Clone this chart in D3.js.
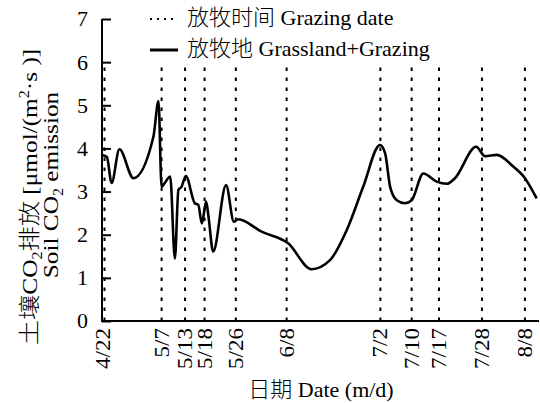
<!DOCTYPE html>
<html>
<head>
<meta charset="utf-8">
<script src="https://cdn.jsdelivr.net/npm/d3@7"></script>
<style>
  html, body { margin: 0; padding: 0; background: #fff; }
  svg { display: block; }
  text { font-family: "Liberation Serif", "Noto Sans CJK SC", serif; font-weight: 300; fill: #000; }
</style>
</head>
<body>
<svg id="chart" width="540" height="403"></svg>
<script>
// Grazing dates (month/day) marked with dotted vertical lines
const grazingDates = ["4/22", "5/7", "5/13", "5/18", "5/26", "6/8", "7/2", "7/10", "7/17", "7/28", "8/8"];

// Soil CO2 emission curve: sample day of year and flux (μmol m-2 s-1)
const sampleDay = [111.8, 113.0, 114.2, 116.2, 119.8, 124.9, 126.2, 127.0, 127.8, 129.2,
                   130.4, 131.3, 132.1, 133.2, 135.5, 136.4, 137.3, 138.4, 139.0, 140.2,
                   143.5, 145.5, 146.6, 152.6, 159.4, 165.4, 170.1, 174.4, 178.6, 182.9,
                   184.2, 185.5, 187.2, 189.3, 191.0, 194.0, 197.4, 200.0, 202.1, 207.5,
                   209.8, 212.8, 217.0, 220.0, 223.0];
const emission  = [3.85, 3.80, 3.20, 3.98, 3.31, 4.27, 5.10, 3.11, 3.20, 3.35,
                   1.45, 3.04, 3.11, 3.36, 2.73, 2.69, 2.26, 2.77, 2.42, 1.61,
                   3.15, 2.30, 2.36, 2.07, 1.80, 1.20, 1.41, 2.11, 3.11, 4.08,
                   3.89, 3.11, 2.80, 2.73, 2.80, 3.42, 3.23, 3.18, 3.31, 4.04,
                   3.82, 3.85, 3.58, 3.31, 2.84];

const yTicks = [0, 1, 2, 3, 4, 5, 6, 7];
const grazingTop = 6;

const legendLabels = ["放牧时间 Grazing date", "放牧地 Grassland+Grazing"];
const xTitle = "日期 Date (m/d)";

const svg = d3.select("#chart");
const plot = { left: 102, right: 539, top: 19, bottom: 321 };
const stretch = 1.15; // rotated labels are drawn slightly elongated along their length

// day-of-year for an "M/D" string (non-leap year)
const parseMD = d3.timeParse("%Y/%m/%d");
function dayOfYear(md) {
  const d = parseMD("2015/" + md);
  return d3.timeDay.count(d3.timeYear(d), d) + 1;
}

const x = d3.scaleLinear().domain([111.744, 223.6]).range([plot.left, plot.right]);
const y = d3.scaleLinear().domain([0, 7]).range([plot.bottom, plot.top]);

// dotted grazing-date lines
svg.append("g")
  .selectAll("line")
  .data(grazingDates)
  .join("line")
  .attr("x1", d => x(dayOfYear(d)) + (d === "4/22" ? 1.5 : 0))
  .attr("x2", d => x(dayOfYear(d)) + (d === "4/22" ? 1.5 : 0))
  .attr("y1", y(0))
  .attr("y2", y(grazingTop))
  .attr("stroke", "#000")
  .attr("stroke-width", 2)
  .attr("stroke-dasharray", "3.5,6.5");

// emission curve
const pts = sampleDay.map((d, i) => [d, emission[i]]);
const line = d3.line()
  .x(d => x(d[0]))
  .y(d => y(d[1]))
  .curve(d3.curveMonotoneX);
svg.append("path")
  .attr("d", line(pts))
  .attr("fill", "none")
  .attr("stroke", "#000")
  .attr("stroke-width", 2.6)
  .attr("stroke-linejoin", "round");

// y axis with inward ticks
const yAxis = d3.axisRight(y).tickValues(yTicks).tickSize(9).tickFormat("");
const gy = svg.append("g").attr("transform", `translate(${plot.left},0)`).call(yAxis);
gy.select(".domain").attr("d", `M0,${plot.top}V${plot.bottom}`).attr("stroke-width", 2);
gy.selectAll(".tick line").attr("stroke-width", 2);

svg.append("g")
  .selectAll("text")
  .data(yTicks)
  .join("text")
  .attr("x", 88)
  .attr("y", d => y(d))
  .attr("dy", "0.34em")
  .attr("text-anchor", "end")
  .attr("font-size", 22)
  .text(d => d);

// x axis (baseline only) with rotated date labels
const xAxis = d3.axisBottom(x).tickValues(grazingDates.map(dayOfYear)).tickSize(0).tickFormat("");
const gx = svg.append("g").attr("transform", `translate(0,${plot.bottom})`).call(xAxis);
gx.select(".domain").attr("d", `M${plot.left - 1},0H${plot.right}`).attr("stroke-width", 2.2);

svg.append("g")
  .selectAll("text")
  .data(grazingDates)
  .join("text")
  .attr("transform", d => `translate(${x(dayOfYear(d)) + 7},${plot.bottom + 7}) rotate(-90) scale(${stretch},1)`)
  .attr("text-anchor", "end")
  .attr("font-size", 20)
  .text(d => d);

// x axis title
svg.append("text")
  .attr("x", 321)
  .attr("y", 397)
  .attr("text-anchor", "middle")
  .attr("font-size", 22)
  .text(xTitle);

// y axis title (two lines)
const yt1 = svg.append("text")
  .attr("transform", `translate(37,197) rotate(-90) scale(${stretch},1)`)
  .attr("text-anchor", "middle")
  .attr("font-size", 22);
yt1.append("tspan").text("土壤CO");
yt1.append("tspan").attr("font-size", 14).attr("dy", 5).text("2");
yt1.append("tspan").attr("dy", -5).text("排放 [μmol/(m");
yt1.append("tspan").attr("font-size", 14).attr("dy", -8).text("2");
yt1.append("tspan").attr("dy", 8).text("·s )]");

const yt2 = svg.append("text")
  .attr("transform", `translate(58,185) rotate(-90) scale(${stretch},1)`)
  .attr("text-anchor", "middle")
  .attr("font-size", 22);
yt2.append("tspan").text("Soil CO");
yt2.append("tspan").attr("font-size", 14).attr("dy", 5).text("2");
yt2.append("tspan").attr("dy", -5).text(" emission");

// legend
const legend = svg.append("g");
legend.append("line")
  .attr("x1", 150).attr("x2", 178).attr("y1", 19).attr("y2", 19)
  .attr("stroke", "#000").attr("stroke-width", 2).attr("stroke-dasharray", "2,5");
legend.append("line")
  .attr("x1", 150).attr("x2", 178).attr("y1", 50).attr("y2", 50)
  .attr("stroke", "#000").attr("stroke-width", 3);
legend.selectAll("text.lg")
  .data(legendLabels)
  .join("text")
  .attr("class", "lg")
  .attr("x", 187)
  .attr("y", (d, i) => 25 + i * 31)
  .attr("font-size", 22)
  .text(d => d);
</script>
</body>
</html>
